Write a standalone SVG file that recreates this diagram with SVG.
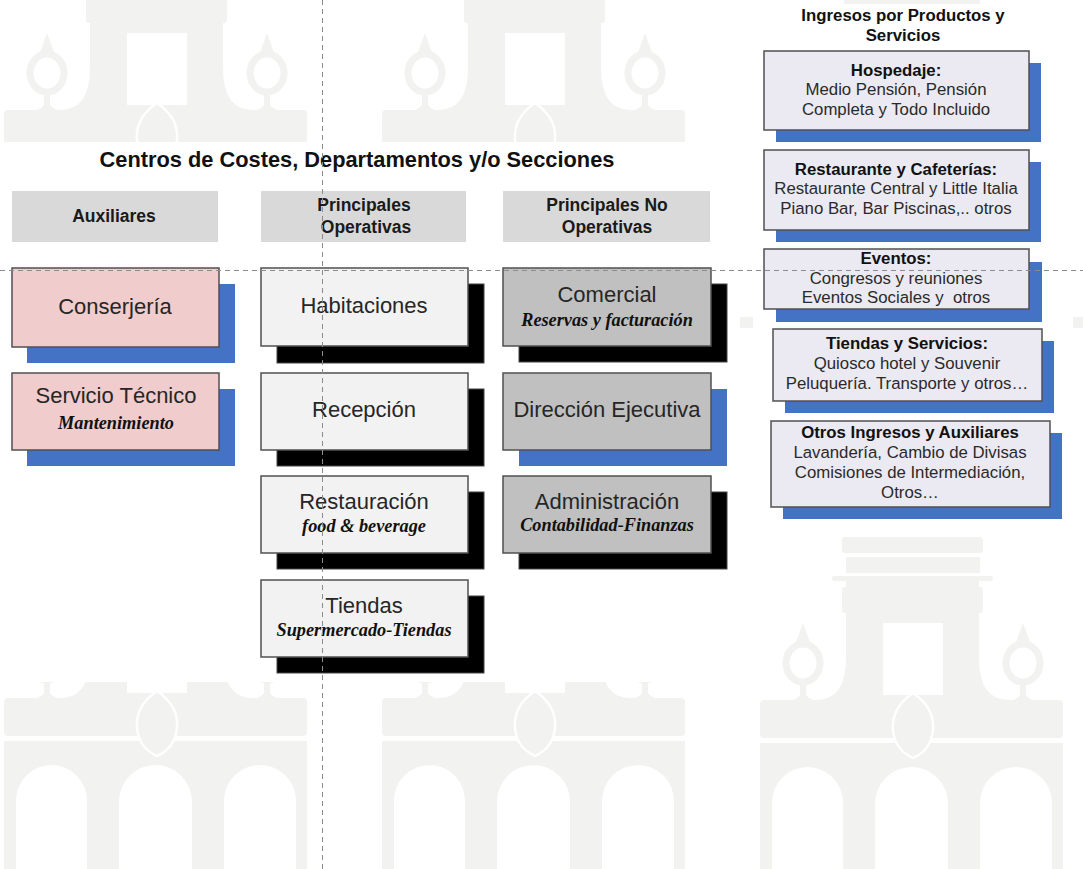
<svg xmlns="http://www.w3.org/2000/svg" xmlns:xlink="http://www.w3.org/1999/xlink" width="1083" height="869" viewBox="0 0 1083 869">
  <style>
    .wm { fill: #f2f2f0; }
    .hdr { fill: #d9d9d9; }
    .hdr-t { font-family: "Liberation Sans", Arial, sans-serif; font-weight: bold; font-size: 17.5px; fill: #1a1a1a; text-anchor: middle; }
    .title { font-family: "Liberation Sans", Arial, sans-serif; font-weight: bold; font-size: 21.8px; fill: #111; text-anchor: middle; }
    .box { stroke: #505050; stroke-width: 1.5; }
    .pink { fill: #f0cccc; }
    .light { fill: #f2f2f2; }
    .dark { fill: #c0c0c0; }
    .lav { fill: #ebe9f1; }
    .sh-blue { fill: #4472c4; }
    .sh-black { fill: #000; stroke: #444; stroke-width: 1; }
    .main { font-family: "Liberation Sans", Arial, sans-serif; font-size: 22px; fill: #262626; text-anchor: middle; }
    .sub { font-family: "Liberation Serif", "Times New Roman", serif; font-style: italic; font-weight: bold; font-size: 18.3px; fill: #111; text-anchor: middle; }
    .rb { font-family: "Liberation Sans", Arial, sans-serif; font-weight: bold; font-size: 16.8px; fill: #111; text-anchor: middle; }
    .rt { font-family: "Liberation Sans", Arial, sans-serif; font-size: 16.8px; fill: #2a2a2a; text-anchor: middle; }
    .guide { stroke: #8c8c8c; stroke-width: 1; stroke-dasharray: 5 4; fill: none; }
  </style>
  <defs>
    <!-- faint building silhouette, origin = left end of the entablature top -->
    <g id="bldg" class="wm">
      <rect x="82" y="-163" width="141" height="16" rx="3"/>
      <rect x="86" y="-143" width="134" height="16"/>
      <rect x="72" y="-124" width="161" height="5" rx="2"/>
      <rect x="86" y="-119" width="133" height="119"/>
      <rect x="82" y="-113" width="141" height="26" rx="3"/>
      <path d="M86,-42 Q86,0 56,0 L86,0 Z M219,-42 Q219,0 249,0 L219,0 Z"/>
      <rect x="40" y="-20" width="6" height="20"/>
      <rect x="260" y="-20" width="6" height="20"/>
      <path d="M33,0 Q43,-3 41,-14 L45,-14 Q43,-3 53,0 Z M253,0 Q263,-3 261,-14 L265,-14 Q263,-3 273,0 Z"/>
      <ellipse cx="43" cy="-37" rx="17" ry="19" fill="none" stroke="#f2f2f0" stroke-width="7"/>
      <ellipse cx="263" cy="-37" rx="17" ry="19" fill="none" stroke="#f2f2f0" stroke-width="7"/>
      <path d="M43,-77 L51,-55 L35,-55 Z M263,-77 L271,-55 L255,-55 Z"/>
      <rect x="0" y="0" width="303" height="38" rx="4"/>
      <path fill-rule="evenodd" d="M0,43 H303 V240 H0 Z M12,240 V102.5 A35.5,35.5 0 0 1 83,102.5 V240 Z M115,240 V103.5 A36.5,36.5 0 0 1 188,103.5 V240 Z M220,240 V103 A36,36 0 0 1 292,103 V240 Z"/>
      <rect x="123" y="-77" width="60" height="72" fill="#fff"/>
      <path d="M153,-7 Q175,8 173,30 Q171,50 153,58 Q135,50 133,30 Q131,8 153,-7 Z" stroke="#fff" stroke-width="2.5"/>
    </g>
    <clipPath id="clipTop"><rect x="0" y="0" width="1083" height="142"/></clipPath>
    <clipPath id="clipBottom"><rect x="0" y="682" width="740" height="187"/></clipPath>
  </defs>

  <rect width="1083" height="869" fill="#fff"/>

  <!-- background watermark -->
  <g id="watermark">
    <g clip-path="url(#clipTop)">
      <use xlink:href="#bldg" transform="translate(4,110)"/>
      <use xlink:href="#bldg" transform="translate(382,110)"/>
    </g>
    <g clip-path="url(#clipBottom)">
      <use xlink:href="#bldg" transform="translate(4,698)"/>
      <use xlink:href="#bldg" transform="translate(382,698)"/>
    </g>
    <use xlink:href="#bldg" transform="translate(760,700)"/>
    <rect class="wm" x="844" y="0" width="136" height="4"/>
    <rect class="wm" x="740" y="317" width="13" height="11"/>
    <rect class="wm" x="1073" y="317" width="10" height="11"/>
  </g>

  <!-- section title and column headers -->
  <text class="title" x="357" y="167">Centros de Costes, Departamentos y/o Secciones</text>

  <g id="hdr-auxiliares">
    <rect class="hdr" x="12" y="191" width="206" height="51"/>
    <text class="hdr-t" x="114" y="222">Auxiliares</text>
  </g>
  <g id="hdr-operativas">
    <rect class="hdr" x="261" y="191" width="205" height="51"/>
    <text class="hdr-t" x="364" y="211">Principales</text>
    <text class="hdr-t" x="366" y="233">Operativas</text>
  </g>
  <g id="hdr-no-operativas">
    <rect class="hdr" x="503" y="191" width="207" height="51"/>
    <text class="hdr-t" x="607" y="211">Principales No</text>
    <text class="hdr-t" x="607" y="233">Operativas</text>
  </g>

  <!-- auxiliary cost centres -->
  <g id="conserjeria">
    <rect class="sh-blue" x="27" y="284" width="208" height="79"/>
    <rect class="box pink" x="12" y="268" width="207" height="79"/>
    <text class="main" x="115" y="314">Conserjería</text>
  </g>
  <g id="servicio-tecnico">
    <rect class="sh-blue" x="27" y="389" width="208" height="77"/>
    <rect class="box pink" x="12" y="373" width="207" height="77"/>
    <text class="main" x="116" y="403">Servicio Técnico</text>
    <text class="sub" x="116" y="429">Mantenimiento</text>
  </g>

  <!-- main operating departments -->
  <g id="habitaciones">
    <rect class="sh-black" x="277" y="284" width="207" height="79"/>
    <rect class="box light" x="261" y="268" width="207" height="78"/>
    <text class="main" x="364" y="313">Habitaciones</text>
  </g>
  <g id="recepcion">
    <rect class="sh-black" x="277" y="389" width="207" height="77"/>
    <rect class="box light" x="261" y="373" width="207" height="77"/>
    <text class="main" x="364" y="417">Recepción</text>
  </g>
  <g id="restauracion">
    <rect class="sh-black" x="277" y="492" width="207" height="77"/>
    <rect class="box light" x="261" y="476" width="207" height="77"/>
    <text class="main" x="364" y="509">Restauración</text>
    <text class="sub" x="364" y="532">food &amp; beverage</text>
  </g>
  <g id="tiendas">
    <rect class="sh-black" x="277" y="596" width="207" height="77"/>
    <rect class="box light" x="261" y="580" width="207" height="77"/>
    <text class="main" x="364" y="613">Tiendas</text>
    <text class="sub" x="364" y="636">Supermercado-Tiendas</text>
  </g>

  <!-- main non-operating departments -->
  <g id="comercial">
    <rect class="sh-black" x="519" y="284" width="208" height="78"/>
    <rect class="box dark" x="503" y="268" width="208" height="78"/>
    <text class="main" x="607" y="302">Comercial</text>
    <text class="sub" x="607" y="326">Reservas y facturación</text>
  </g>
  <g id="direccion-ejecutiva">
    <rect class="sh-blue" x="519" y="389" width="208" height="77"/>
    <rect class="box dark" x="503" y="373" width="208" height="77"/>
    <text class="main" x="607" y="417">Dirección Ejecutiva</text>
  </g>
  <g id="administracion">
    <rect class="sh-black" x="519" y="492" width="208" height="77"/>
    <rect class="box dark" x="503" y="476" width="208" height="77"/>
    <text class="main" x="607" y="509">Administración</text>
    <text class="sub" x="607" y="531">Contabilidad-Finanzas</text>
  </g>

  <!-- revenue by products and services -->
  <g id="ingresos-titulo">
    <text class="rb" x="903" y="21">Ingresos por Productos y</text>
    <text class="rb" x="903" y="41">Servicios</text>
  </g>
  <g id="hospedaje">
    <rect class="sh-blue" x="776" y="63" width="265" height="79"/>
    <rect class="box lav" x="764" y="51" width="265" height="79"/>
    <text class="rb" x="896" y="76">Hospedaje:</text>
    <text class="rt" x="896" y="95">Medio Pensión, Pensión</text>
    <text class="rt" x="896" y="115">Completa y Todo Incluido</text>
  </g>
  <g id="restaurante">
    <rect class="sh-blue" x="776" y="162" width="265" height="80"/>
    <rect class="box lav" x="764" y="150" width="265" height="80"/>
    <text class="rb" x="896" y="175">Restaurante y Cafeterías:</text>
    <text class="rt" x="896" y="194">Restaurante Central y Little Italia</text>
    <text class="rt" x="896" y="214">Piano Bar, Bar Piscinas,.. otros</text>
  </g>
  <g id="eventos">
    <rect class="sh-blue" x="776" y="262" width="266" height="60"/>
    <rect class="box lav" x="764" y="249" width="265" height="60"/>
    <text class="rb" x="896" y="264">Eventos:</text>
    <text class="rt" x="896" y="284">Congresos y reuniones</text>
    <text class="rt" x="896" y="303" xml:space="preserve">Eventos Sociales y  otros</text>
  </g>
  <g id="tiendas-servicios">
    <rect class="sh-blue" x="785" y="341" width="269" height="72"/>
    <rect class="box lav" x="773" y="329" width="269" height="72"/>
    <text class="rb" x="907" y="349">Tiendas y Servicios:</text>
    <text class="rt" x="907" y="369">Quiosco hotel y Souvenir</text>
    <text class="rt" x="907" y="389">Peluquería. Transporte y otros…</text>
  </g>
  <g id="otros-ingresos">
    <rect class="sh-blue" x="783" y="433" width="279" height="86"/>
    <rect class="box lav" x="771" y="421" width="279" height="86"/>
    <text class="rb" x="910" y="438">Otros Ingresos y Auxiliares</text>
    <text class="rt" x="910" y="458">Lavandería, Cambio de Divisas</text>
    <text class="rt" x="910" y="478">Comisiones de Intermediación,</text>
    <text class="rt" x="910" y="498">Otros…</text>
  </g>

  <!-- dashed guide lines (no connectors between nodes) -->
  <g id="connectors">
    <line class="guide" x1="322.5" y1="0" x2="322.5" y2="869"/>
    <line class="guide" x1="0" y1="270.5" x2="1083" y2="270.5"/>
  </g>
</svg>
